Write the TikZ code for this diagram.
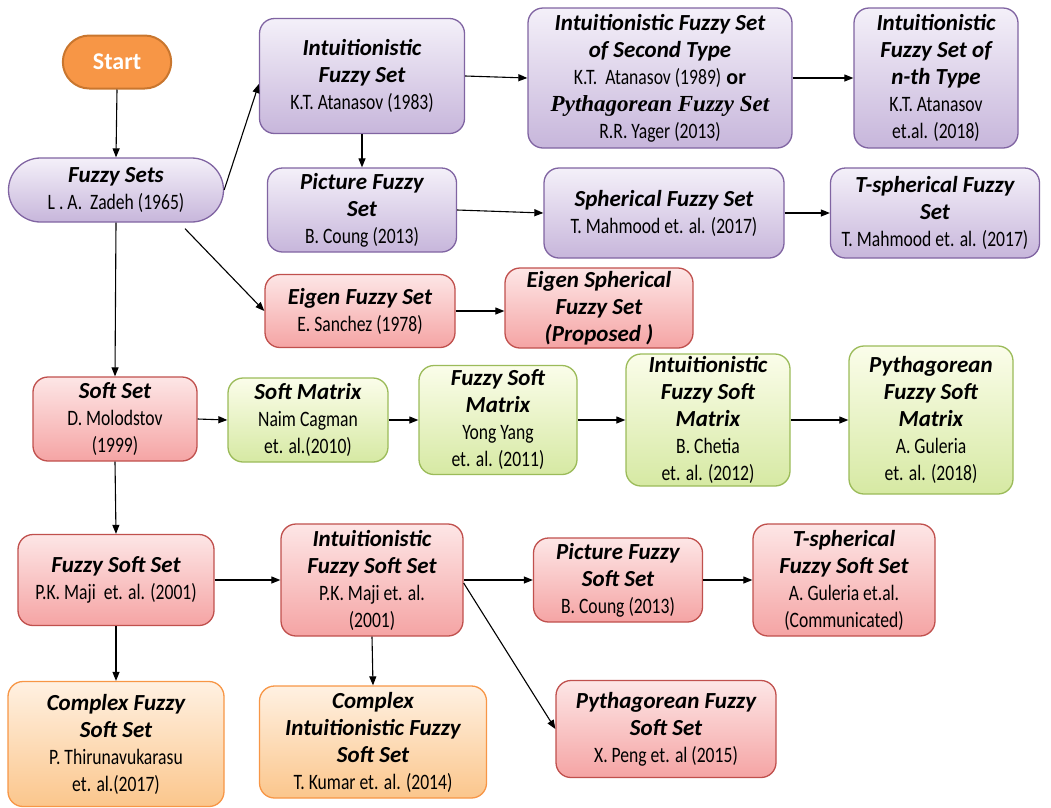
\documentclass[tikz,border=0pt]{standalone}
\usepackage{fontspec}
\setmainfont{Carlito}
\newfontfamily\subfont[FakeStretch=0.8]{Carlito}
\newfontfamily\serifbi{Liberation Serif}
\usetikzlibrary{arrows.meta,shapes.misc}
\definecolor{purpB}{HTML}{8064A2}
\definecolor{purpT}{HTML}{F4F0F9}
\definecolor{purpD}{HTML}{C7B6DB}
\definecolor{redB}{HTML}{C0504D}
\definecolor{redT}{HTML}{FDE6E6}
\definecolor{redD}{HTML}{F5A4A4}
\definecolor{grnB}{HTML}{9BBB59}
\definecolor{grnT}{HTML}{FBFDEA}
\definecolor{grnD}{HTML}{D6E9A3}
\definecolor{orgB}{HTML}{F79646}
\definecolor{orgT}{HTML}{FFF1E2}
\definecolor{orgD}{HTML}{FBC68C}
\definecolor{startF}{HTML}{F79646}
\definecolor{startB}{HTML}{C9762E}
\newcommand\ttl[1]{{\bfseries\itshape\fontsize{23}{27.5}\selectfont #1}}
\newcommand\subt[1]{{\subfont\fontsize{22}{24.5}\selectfont #1}}
\tikzset{
  box/.style={line width=1.3pt, rounded corners=15pt, align=center, inner sep=1pt,
    font=\fontsize{23}{27}\selectfont},
  purp/.style={box, draw=purpB, top color=purpT, bottom color=purpD},
  redbox/.style={box, draw=redB, top color=redT, bottom color=redD},
  grn/.style={box, draw=grnB, top color=grnT, bottom color=grnD},
  org/.style={box, draw=orgB, top color=orgT, bottom color=orgD},
  arr/.style={-{Triangle[length=9pt,width=7pt]}, line width=1.1pt},
}
\begin{document}
\begin{tikzpicture}[x=1pt,y=-1pt]
\useasboundingbox (0,0) rectangle (1051,807);
\node[rounded rectangle, line width=2pt, draw=startB, fill=startF, minimum width=115, minimum height=53,
  font=\fontsize{24}{28}\selectfont\bfseries, text=white] (start) at (117,62) {Start};
\node[purp, sharp corners, rounded rectangle, minimum width=217, minimum height=64] (fs) at (116,190)
  {\ttl{Fuzzy Sets}\\\subt{L . A.\ \ Zadeh (1965)}};
\node[purp, minimum width=205, minimum height=115] (ifs) at (362,76)
  {\ttl{Intuitionistic}\\\ttl{Fuzzy Set}\\\subt{K.T. Atanasov (1983)}};
\node[purp, minimum width=264, minimum height=140] (ifs2) at (660,78)
  {\ttl{Intuitionistic Fuzzy Set}\\\ttl{of Second Type}\\\subt{K.T.\ \ Atanasov (1989)} {\bfseries\fontsize{22}{24}\selectfont or}\\
   {\serifbi\bfseries\itshape\fontsize{23}{27}\selectfont Pythagorean Fuzzy Set}\\\subt{R.R. Yager (2013)}};
\node[purp, minimum width=164, minimum height=140] (ifsn) at (936,78)
  {\ttl{Intuitionistic}\\\ttl{Fuzzy Set of}\\\ttl{n-th Type}\\\subt{K.T. Atanasov}\\\subt{et.al. (2018)}};
\node[purp, minimum width=189, minimum height=84] (pic) at (362,210)
  {\ttl{Picture Fuzzy}\\\ttl{Set}\\\subt{B. Coung (2013)}};
\node[purp, minimum width=240, minimum height=90] (sph) at (664,213)
  {\ttl{Spherical Fuzzy Set}\\\subt{T. Mahmood et. al. (2017)}};
\node[purp, minimum width=209, minimum height=90] (tsph) at (935,213)
  {\ttl{T-spherical Fuzzy}\\\ttl{Set}\\\subt{T. Mahmood et. al. (2017)}};
\node[redbox, minimum width=190, minimum height=73] (eig) at (360,311)
  {\ttl{Eigen Fuzzy Set}\\\subt{E. Sanchez (1978)}};
\node[redbox, minimum width=188, minimum height=80] (eigs) at (599,308)
  {\ttl{Eigen Spherical}\\\ttl{Fuzzy Set}\\\ttl{(Proposed )}};
\node[redbox, minimum width=164, minimum height=84] (soft) at (115,419)
  {\ttl{Soft Set}\\\subt{D. Molodstov}\\\subt{(1999)}};
\node[grn, minimum width=160, minimum height=84] (sm) at (308,420)
  {\ttl{Soft Matrix}\\\subt{Naim Cagman}\\\subt{et. al.(2010)}};
\node[grn, minimum width=158, minimum height=109] (fsm) at (498,420)
  {\ttl{Fuzzy Soft}\\\ttl{Matrix}\\\subt{Yong Yang}\\\subt{et. al. (2011)}};
\node[grn, minimum width=164, minimum height=132] (ifsm) at (708,420)
  {\ttl{Intuitionistic}\\\ttl{Fuzzy Soft}\\\ttl{Matrix}\\\subt{B. Chetia}\\\subt{et. al. (2012)}};
\node[grn, minimum width=164, minimum height=148] (pfsm) at (931,420)
  {\ttl{Pythagorean}\\\ttl{Fuzzy Soft}\\\ttl{Matrix}\\\subt{A. Guleria}\\\subt{et. al. (2018)}};
\node[redbox, minimum width=196, minimum height=91] (fss) at (116,580)
  {\ttl{Fuzzy Soft Set}\\\subt{P.K. Maji\ \ et. al. (2001)}};
\node[redbox, minimum width=182, minimum height=112] (ifss) at (372,580)
  {\ttl{Intuitionistic}\\\ttl{Fuzzy Soft Set}\\\subt{P.K. Maji et. al.}\\\subt{(2001)}};
\node[redbox, minimum width=169, minimum height=84] (pfss) at (618,580)
  {\ttl{Picture Fuzzy}\\\ttl{Soft Set}\\\subt{B. Coung (2013)}};
\node[redbox, minimum width=182, minimum height=112] (tfss) at (844,580)
  {\ttl{T-spherical}\\\ttl{Fuzzy Soft Set}\\\subt{A. Guleria et.al.}\\\subt{(Communicated)}};
\node[org, minimum width=216, minimum height=125] (cfss) at (116,744)
  {\ttl{Complex Fuzzy}\\\ttl{Soft Set}\\\subt{P. Thirunavukarasu}\\\subt{et. al.(2017)}};
\node[org, minimum width=227, minimum height=112] (cifss) at (373,742)
  {\ttl{Complex}\\\ttl{Intuitionistic Fuzzy}\\\ttl{Soft Set}\\\subt{T. Kumar et. al. (2014)}};
\node[redbox, minimum width=220, minimum height=97] (pyfss) at (666,729)
  {\ttl{Pythagorean Fuzzy}\\\ttl{Soft Set}\\\subt{X. Peng et. al (2015)}};
% connectors
\draw[arr] (start.south) -- (fs.north);
\draw[arr] (fs.east) -- ([yshift=-8pt]ifs.west);
\draw[arr] (ifs.east) -- (ifs2.west);
\draw[arr] (ifs2.east) -- (ifsn.west);
\draw[arr] (ifs.south) -- (pic.north);
\draw[arr] (pic.east) -- (sph.west);
\draw[arr] (sph.east) -- (tsph.west);
\draw[arr] ([xshift=69pt,yshift=-6pt]fs.south) -- (eig.west);
\draw[arr] (eig.east) -- (eig.east -| eigs.west);
\draw[arr] (fs.south) -- (soft.north);
\draw[arr] (soft.east) -- (sm.west);
\draw[arr] (sm.east) -- (fsm.west);
\draw[arr] (fsm.east) -- (ifsm.west);
\draw[arr] (ifsm.east) -- (pfsm.west);
\draw[arr] (soft.south) -- (fss.north);
\draw[arr] (fss.east) -- (ifss.west);
\draw[arr] (ifss.east) -- (pfss.west);
\draw[arr] (pfss.east) -- (tfss.west);
\draw[arr] (fss.south) -- (cfss.north);
\draw[arr] (ifss.south) -- (cifss.north);
\draw[arr] ([yshift=-3pt]ifss.east) -- (pyfss.west);
\end{tikzpicture}
\end{document}
